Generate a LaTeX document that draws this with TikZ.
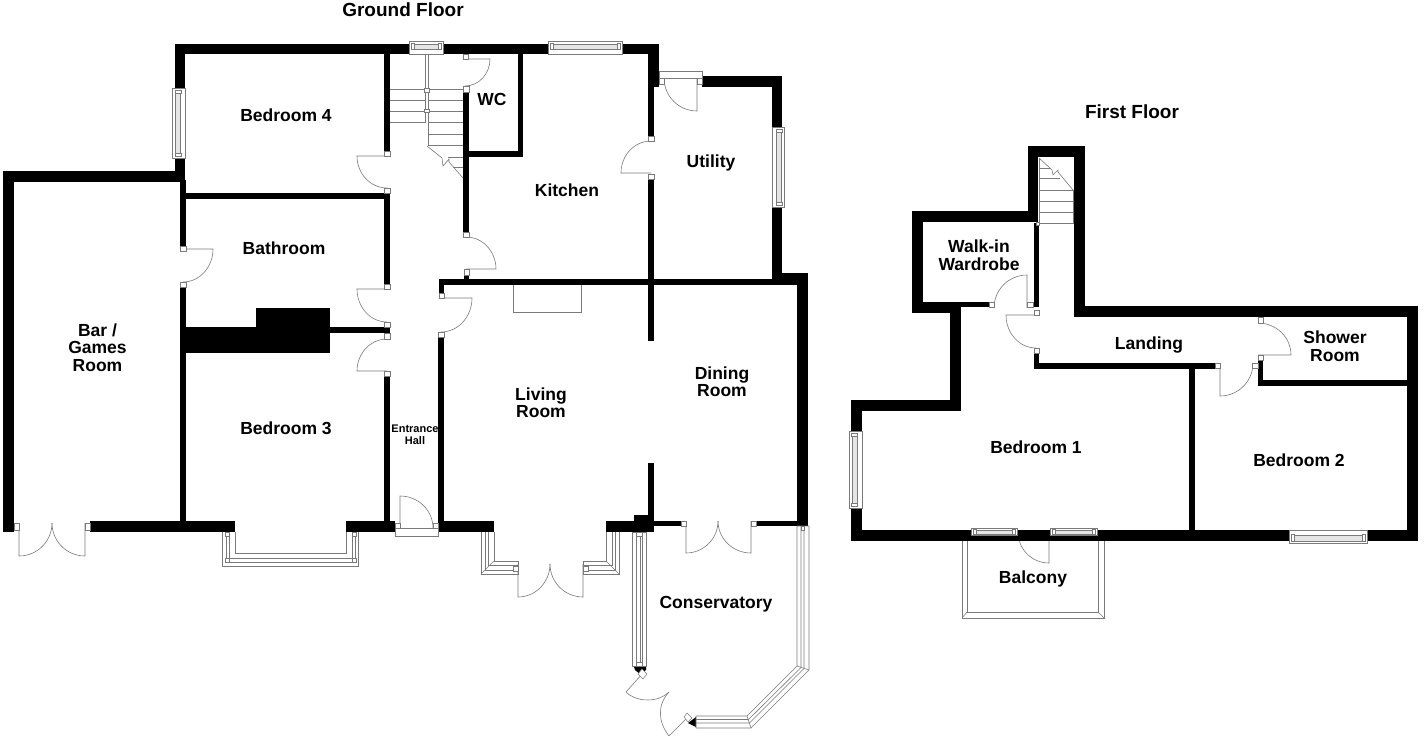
\documentclass[tikz,border=0pt]{standalone}
\usepackage{fontspec}
\setmainfont{Liberation Sans}
\tikzset{
  wall/.style={fill=black},
  fine/.style={draw=black!52,line width=0.6pt},
  jamb/.style={draw=black!52,fill=white,line width=0.5pt},
  glass/.style={draw=black!52,fill=white,line width=0.6pt},
  band/.style={draw=black!52,fill=black!10,line width=0.5pt},
  room/.style={font=\fontsize{17.5}{18}\selectfont\bfseries,align=center,inner sep=0pt},
  smallroom/.style={font=\fontsize{11}{12}\selectfont\bfseries,align=center,inner sep=0pt},
  title/.style={font=\fontsize{19}{20}\selectfont\bfseries,inner sep=0pt}
}
\newcommand{\wl}[4]{\fill[wall] (#1,#2) rectangle (#3,#4);}
\newcommand{\jm}[4]{\filldraw[jamb] (#1,#2) rectangle (#3,#4);}
% horizontal window: x1 x2 y1 y2 band-y1 band-y2
\newcommand{\hwin}[6]{\filldraw[glass] (#1,#3) rectangle (#2,#4);
  \filldraw[band] ({#1+4},#5) rectangle ({#2-4},#6);
  \filldraw[jamb] ({#1+2},{#5-0.5}) rectangle ({#1+5},{#6+0.5});
  \filldraw[jamb] ({#2-5},{#5-0.5}) rectangle ({#2-2},{#6+0.5});}
% vertical window: x1 x2 y1 y2 band-x1 band-x2
\newcommand{\vwin}[6]{\filldraw[glass] (#1,#3) rectangle (#2,#4);
  \filldraw[band] (#5,{#3+4}) rectangle (#6,{#4-4});
  \filldraw[jamb] ({#5-0.5},{#3+2}) rectangle ({#6+0.5},{#3+5});
  \filldraw[jamb] ({#5-0.5},{#4-5}) rectangle ({#6+0.5},{#4-2});}
% door: hinge, tip of leaf, end of swing (quarter circle about the hinge)
\newcommand{\dr}[6]{\draw[fine] (#1,#2) -- (#3,#4) .. controls ({#3+0.5523*(#5-#1)},{#4+0.5523*(#6-#2)}) and ({#5+0.5523*(#3-#1)},{#6+0.5523*(#4-#2)}) .. (#5,#6);}
\begin{document}
\begin{tikzpicture}[x=1pt,y=-1pt]
\useasboundingbox[fill=white] (0,0) rectangle (1424,736);

% ===== GROUND FLOOR walls =====
\wl{175}{44}{409}{54}
\wl{443}{44}{548}{54}
\wl{622}{44}{659}{54}
\wl{175}{44}{185}{88}
\wl{175}{158}{185}{182}
\wl{3}{171}{185}{182}
\wl{3}{171}{14}{532}
\wl{180}{180}{186}{246}
\wl{180}{287}{186}{521}
\wl{180}{193}{390}{199}
\wl{384}{54}{390}{151}
\wl{384}{193}{390}{284}
\wl{384}{376}{390}{521}
% chimney
\wl{180}{327}{330}{353}
\wl{256}{308}{330}{327}
\wl{330}{327}{390}{333}
% bottom wall
\wl{90}{521}{235}{532}
\wl{346}{521}{395}{532}
\wl{438}{521}{494}{532}
\wl{606}{521}{654}{532}
\wl{634}{515}{654}{532}
\wl{654}{521}{681}{526}
\wl{756}{521}{797}{526}
% hall right
\wl{438}{337}{444}{521}
\wl{439}{279}{444}{293}
\wl{439}{279}{808}{285}
% kitchen left
\wl{463}{92}{469}{232}
\wl{464}{275}{469}{279}
\wl{518}{54}{523}{157}
\wl{464}{151}{523}{157}
% kitchen/utility
\wl{648}{44}{659}{87}
\wl{648}{87}{654}{136}
\wl{648}{179}{654}{341}
\wl{648}{463}{654}{521}
% utility
\wl{702}{76}{782}{87}
\wl{772}{76}{782}{127}
\wl{772}{207}{782}{279}
\wl{772}{273}{808}{285}
\wl{797}{273}{808}{526}

% fireplace
\draw[fine] (513,285) -- (513,312) -- (581,312) -- (581,285);

% ----- windows ground -----
\hwin{409}{443}{41}{54}{44}{49}
\hwin{548}{622}{41}{54}{44}{49}
\vwin{172.5}{185}{88}{158}{175.5}{180.5}
\vwin{772}{784}{127}{207}{776.5}{781.5}

% ----- utility door frame -----
\filldraw[glass] (659,71) rectangle (702,78);
\dr{697}{78}{697}{111}{664}{78}
\jm{659}{78}{664}{84}
\jm{697}{78}{702}{84}

% ----- interior doors ground -----
% bedroom 4
\dr{387}{156}{357}{156}{387}{188}
\jm{384}{151}{390}{156}\jm{384}{188}{390}{193}
% bathroom from hall
\dr{387}{289}{357}{289}{387}{322}
\jm{384}{284}{390}{289}\jm{384}{322}{390}{327}
% bedroom 3
\dr{387}{371}{357}{371}{387}{339}
\jm{384}{333}{390}{339}\jm{384}{371}{390}{376}
% bar door
\dr{183}{249}{213}{249}{183}{282}
\jm{180}{246}{186}{251}\jm{180}{282}{186}{287}
% living room door
\dr{441}{298}{472}{298}{441}{332}
\jm{439}{293}{444}{298}\jm{438}{332}{444}{337}
% kitchen door
\dr{466}{269}{496}{269}{466}{237}
\jm{463}{232}{469}{237}\jm{464}{269}{469}{275}
% WC door
\dr{465}{59}{490}{59}{465}{86}
\jm{463}{54}{468}{59}\jm{463}{86}{469}{92}
% utility door
\dr{651}{173}{621}{173}{651}{141}
\jm{648}{136}{654}{141}\jm{648}{174}{654}{179}
% entrance door
\filldraw[glass] (395,528) rectangle (438,536);
\dr{400}{528}{400}{496}{433}{528}
\jm{395}{523}{400}{528}\jm{433}{523}{438}{528}

% ----- stairs ground -----
\foreach \yy in {89.5,100.5,111.5,122.5}{\draw[fine] (390,\yy) -- (425,\yy);}
\foreach \yy in {89.5,100.5,111.5,122.5,134,145.5}{\draw[fine] (428,\yy) -- (463,\yy);}
\draw[fine] (425,54) -- (425,122.5) (428,54) -- (428,146);
\jm{424.5}{88}{429}{92}\jm{424.5}{109}{429}{112}
\draw[fine] (427,146) -- (442,158) -- (443,166) -- (449,159) -- (449,162) -- (463,178);
\draw[fine] (448,157) -- (463,157) (453,167) -- (463,167);

% ----- bay bedroom 3 -----
\draw[fine] (235,532) -- (235,553) -- (346,553) -- (346,532);
\draw[fine] (229,532) -- (229,558) -- (352,558) -- (352,532);
\draw[fine] (226,532) -- (226,562) -- (355,562) -- (355,532);
\draw[fine] (222,532) -- (222,566) -- (358,566) -- (358,532);
\jm{225}{532}{229}{536}\jm{352}{532}{356}{536}
\jm{225}{558}{229}{562}\jm{352}{558}{356}{562}

% ----- living room bays -----
\draw[fine] (494,532) -- (494,561) -- (518,561);
\draw[fine] (488,532) -- (488,565) -- (518,565);
\draw[fine] (485,532) -- (485,570) -- (518,570);
\draw[fine] (481,532) -- (481,574) -- (518,574) -- (518,561);
\draw[fine] (481,574) -- (494,561);
\draw[fine] (606,532) -- (606,561) -- (583,561);
\draw[fine] (612,532) -- (612,565) -- (583,565);
\draw[fine] (615,532) -- (615,570) -- (583,570);
\draw[fine] (619,532) -- (619,574) -- (583,574) -- (583,561);
\draw[fine] (619,574) -- (606,561);
\dr{518}{564}{518}{597}{550}{564}
\dr{583}{564}{583}{597}{550}{564}
\jm{513}{566}{518}{571}\jm{583}{566}{588}{571}

% ----- bar french doors -----
\dr{19}{523}{19}{556}{52}{523}
\dr{85}{523}{85}{556}{52}{523}
\jm{14}{523}{19}{530}\jm{85}{523}{90}{530}

% ----- conservatory doors -----
\dr{686}{521}{686}{553}{718}{521}
\dr{751}{521}{751}{553}{718}{521}
\jm{681}{521}{686}{526}\jm{751}{521}{756}{526}

% ----- conservatory glazing -----
\filldraw[glass] (632,532) rectangle (646,666);
\draw[fine] (636,532) -- (636,666) (640,532) -- (640,666) (642,532) -- (642,666);
\jm{636}{532}{642}{536}
\jm{636}{662}{642}{666}
\fill[wall] (634,667) -- (646,667) -- (646,670) -- (640,674) -- (635,670) -- cycle;
\draw[fine] (643,673) -- (626,692);
\draw[fine] (626,692) .. controls (633,700) and (655,705) .. (669,692);
\draw[fine] (669,692) .. controls (657,705) and (658,722) .. (669,736);
\draw[fine] (669,736) -- (688,717);
\filldraw[jamb] (642,669) -- (647,674) -- (643,679) -- (638,674) -- cycle;
\filldraw[jamb] (687,713) -- (692,718) -- (688,722) -- (684,717) -- cycle;
\fill[wall] (688,723) -- (696,717) -- (696,727) -- cycle;
% lower + diagonal + right glazing
\draw[fine] (696,716) -- (747,716) -- (797,666) -- (797,526);
\draw[fine] (696,719.5) -- (748.5,719.5) -- (801,667.5) -- (801,526);
\draw[fine] (696,723) -- (749.5,723) -- (804,668.5) -- (804,526);
\draw[fine] (696,728) -- (751,728) -- (809,670) -- (809,526);
\draw[fine] (797,666) -- (809,670) (747,716) -- (751,728) (696,716) -- (696,728) (797,526) -- (809,526);
\jm{801}{526}{804}{530}

% ===== FIRST FLOOR =====
% balcony (door swing runs under the wall)
\draw[fine] (962,541) -- (962,618) -- (1104,618) -- (1104,541);
\draw[fine] (967,541) -- (967,612) -- (1098,612) -- (1098,541);
\draw[fine] (962,618) -- (967,612) (1104,618) -- (1098,612);
\dr{1049}{532}{1049}{563}{1018}{532}

\wl{1028}{146}{1085}{157}
\wl{1028}{146}{1038}{222}
\wl{1074}{146}{1085}{317}
\wl{912}{211}{1038}{222}
\wl{912}{211}{923}{313}
\wl{912}{302}{961}{313}
\wl{961}{302}{989}{307}
\wl{1034}{223}{1039}{307}
\wl{950}{302}{961}{411}
\wl{851}{400}{961}{411}
\wl{851}{400}{862}{431}
\wl{851}{508}{862}{541}
\wl{851}{530}{1418}{541}
\wl{1074}{306}{1418}{317}
\wl{1407}{306}{1418}{541}
\wl{1034}{353}{1039}{369}
\wl{1034}{363}{1215}{369}
\wl{1189}{363}{1195}{530}
\wl{1258}{360}{1263}{386}
\wl{1258}{380}{1407}{386}

% jambs and doors first
\dr{1027}{308}{1027}{275}{994}{308}
\jm{989}{302}{994}{307}\jm{1027}{302}{1033}{307}
\dr{1036}{315}{1006}{315}{1036}{348}
\jm{1034}{310}{1039}{315}\jm{1034}{348}{1039}{353}
\dr{1220}{363}{1220}{396}{1253}{363}
\jm{1215}{363}{1220}{368}\jm{1252}{363}{1258}{368}
\dr{1258}{355}{1291}{355}{1258}{323}
\jm{1258}{355}{1263}{360}\jm{1258}{317}{1263}{323}

% first floor windows
\vwin{849}{862}{431}{508}{852}{857}
\hwin{971}{1017}{528}{535}{530}{534}
\hwin{1050}{1097}{528}{535}{530}{534}
\hwin{1289}{1367}{530}{543}{535}{541}

% stairs first
\draw[fine] (1039,223) -- (1073,223) -- (1073,190);
\draw[fine] (1039,158) -- (1039,223);
\foreach \yy in {212,201,190,178,168}{\draw[fine] (1039,\yy) -- ({min(1073,1039+(\yy-158)*1.05+0)},\yy);}
\draw[fine] (1039,158) -- (1052,170) -- (1053,175) -- (1058,170) -- (1058,172) -- (1073,190);
\jm{1036}{222}{1039}{225}

% ===== labels =====
\node[title] (t1) at (403,10) {Ground Floor};
\node[title] (t2) at (1132,112) {First Floor};
\node[room] (r1) at (286,115) {Bedroom 4};
\node[room] (r2) at (492,99) {WC};
\node[room] (r3) at (567,190) {Kitchen};
\node[room] (r4) at (711,163) {Utility};
\node[room] (r5) at (284,248) {Bathroom};
\node[room] (r6) at (97.5,347.5) {Bar /\\[-0.5pt]Games\\[-0.5pt]Room};
\node[room] (r7) at (286,428) {Bedroom 3};
\node[smallroom] (r8) at (415,435) {Entrance\\Hall};
\node[room] (r9) at (541,402.5) {Living\\[-0.5pt]Room};
\node[room] (r10) at (722,381.5) {Dining\\[-0.5pt]Room};
\node[room] (r11) at (716,604) {Conservatory};
\node[room] (r12) at (979,255) {Walk-in\\[-0.5pt]Wardrobe};
\node[room] (r13) at (1149,345) {Landing};
\node[room] (r14) at (1335,346) {Shower\\[-0.5pt]Room};
\node[room] (r15) at (1036,447) {Bedroom 1};
\node[room] (r16) at (1299,460) {Bedroom 2};
\node[room] (r17) at (1033,579) {Balcony};
\end{tikzpicture}
\end{document}
